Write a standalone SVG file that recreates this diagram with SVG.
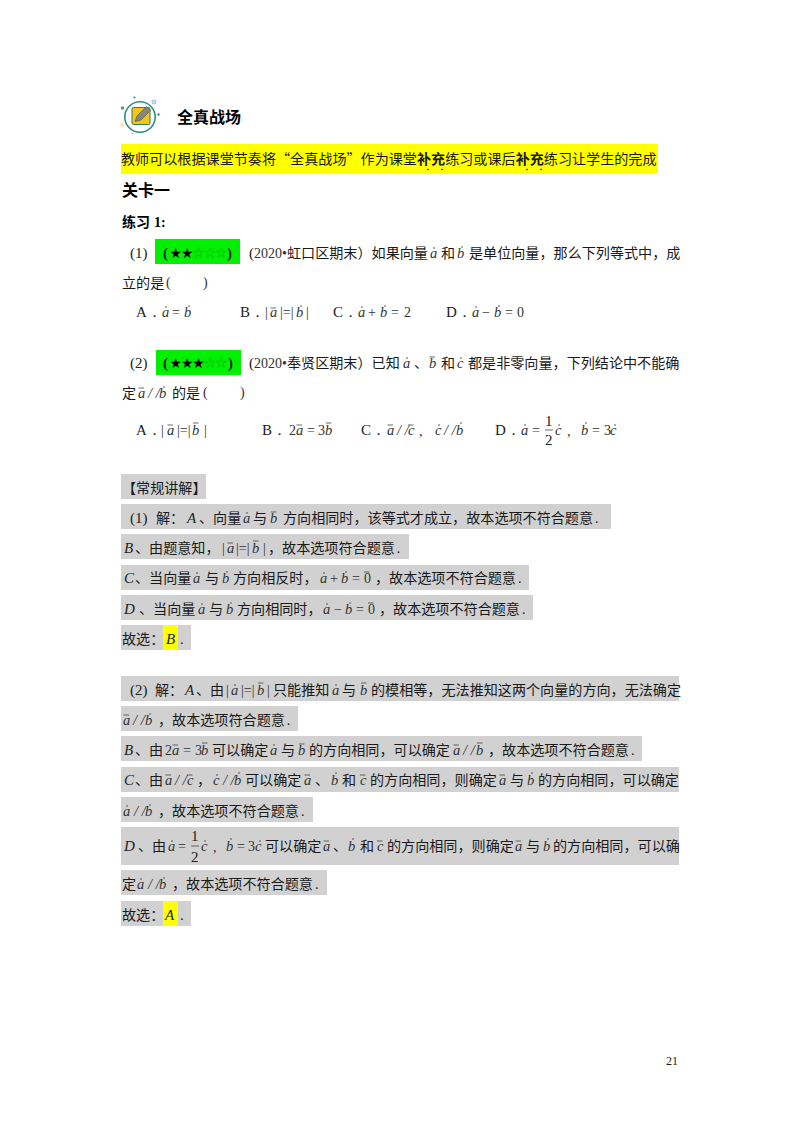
<svg xmlns="http://www.w3.org/2000/svg" width="800" height="1132" viewBox="0 0 800 1132">
<style>
text{font-family:"Liberation Serif","Noto Sans CJK SC",sans-serif;font-size:14.1px;fill:#1a1a1a;white-space:pre}
.h{font-family:"Liberation Sans","Noto Sans CJK SC",sans-serif;font-weight:700;fill:#000}
.c{font-family:"Noto Sans CJK SC",sans-serif;fill:#1a1a1a}
.m{font-family:"Liberation Serif",serif;font-style:italic;font-size:14.5px;fill:#333}
.u{font-size:15px;fill:#222}
.n{font-family:"Liberation Serif",serif;font-size:14px;fill:#333}
.f{font-family:"Liberation Serif",serif;font-size:15px;fill:#222}
.L{font-family:"Liberation Serif",serif;font-size:15px;fill:#222}
.s{font-family:"Noto Sans CJK SC",sans-serif;font-size:11.400px;fill:#000}
.o{fill:#0e9c22}
.p{font-family:"Liberation Serif",serif}
.g{fill:#d1d1d1}.y{fill:#ffff00}.gr{fill:#00f000}
.v{stroke:#444;stroke-width:.8;fill:none}
</style>
<defs>
<path id="b" class="v" d="M0 0h5.500"/>
<circle id="d" r=".8" fill="#444"/>
</defs>
<rect width="800" height="1132" fill="#fff"/>

<g id="icon">
<circle cx="140" cy="117" r="15.200" fill="#fff" stroke="#2a9080" stroke-width="1.600"/>
<rect x="132" y="107.500" width="18" height="17" rx="1.500" fill="#f3c814" stroke="#2f7d62" stroke-width="1"/>
<path d="M135 121.500l2-5.500 9.500-9.500 4 4-9.500 9.500z" fill="#85857a" stroke="#5a5a50" stroke-width=".7"/>
<circle cx="122.500" cy="108" r="1.800" fill="#7a8a85"/><circle cx="134.500" cy="97.500" r="1.100" fill="#2a9080"/>
<circle cx="154" cy="102" r="2" fill="#cfe4f5" stroke="#7aa8d8" stroke-width=".7"/><circle cx="158.500" cy="114.500" r="1.200" fill="#2a9080"/>
<circle cx="122" cy="125" r="1.800" fill="#fbeeb0" stroke="#f0dc80" stroke-width=".5"/><circle cx="132.500" cy="133.500" r=".8" fill="#8fbfc0"/>
</g>

<g id="heading">
<text class="h" x="177" y="123" style="font-size:16px">全真战场</text>
<rect class="y" x="121" y="144" width="537" height="30"/>
<text class="c" x="121" y="164">教师可以根据课堂节奏将“全真战场”作为课堂<tspan font-weight="700">补充</tspan>练习或课后<tspan font-weight="700">补充</tspan>练习让学生的完成</text>
<circle cx="428" cy="169.500" r=".8" fill="#000"/><circle cx="442" cy="169.500" r=".8" fill="#000"/><circle cx="527" cy="169.500" r=".8" fill="#000"/><circle cx="541" cy="169.500" r=".8" fill="#000"/>
<text class="h" x="122" y="196" style="font-size:16px">关卡一</text>
<text class="h" x="122" y="227" style="font-size:14px">练习 <tspan font-family="Liberation Serif">1:</tspan></text>
</g>

<g id="q1">
<rect class="gr" x="155" y="239" width="85" height="25"/>
<text class="L" x="130" y="258">(1)</text>
<text class="L" x="163" y="258" font-weight="700">(</text><text class="s" x="170" y="257">★★<tspan class="o">☆☆☆</tspan></text><text class="L" x="227" y="258" font-weight="700">)</text>
<text class="L" x="249" y="258">(</text><text class="n" x="254" y="258">2020•</text><text class="c" x="287" y="258">虹口区期末）如果向量</text>
<text class="m" x="430" y="258">a</text><use href="#d" x="434" y="248"/>
<text class="c" x="441" y="258">和</text>
<text class="m" x="457" y="258">b</text><use href="#d" x="462" y="247"/>
<text class="c" x="469" y="258">是单位向量，那么下列等式中，成</text>
<text class="c" x="122" y="288">立的是</text><text class="n" x="166" y="287">(</text><text class="n" x="203" y="287">)</text>
<text class="L" x="136" y="317">A．</text><text class="m" x="162" y="317">a</text><use href="#d" x="166" y="307"/><text class="n" x="172" y="317">=</text><text class="m" x="184" y="317">b</text><use href="#d" x="189" y="306"/>
<text class="L" x="240" y="317">B．</text><text class="n" x="265" y="317">|</text><text class="m" x="270" y="317">a</text><use href="#b" x="270.500" y="308"/><text class="n" x="280" y="317">|=|</text><text class="m" x="296" y="317">b</text><use href="#d" x="301" y="306"/><text class="n" x="306" y="317">|</text>
<text class="L" x="333" y="317">C．</text><text class="m" x="358" y="317">a</text><use href="#d" x="362" y="307"/><text class="n" x="368" y="317">+</text><text class="m" x="380" y="317">b</text><use href="#d" x="385" y="306"/><text class="n" x="391" y="317">=</text><text class="n" x="404" y="317">2</text>
<text class="L" x="446" y="317">D．</text><text class="m" x="472" y="317">a</text><use href="#d" x="476" y="307"/><text class="n" x="482" y="317">−</text><text class="m" x="494" y="317">b</text><use href="#d" x="499" y="306"/><text class="n" x="505" y="317">=</text><text class="n" x="517" y="317">0</text>
</g>

<g id="q2">
<rect class="gr" x="156" y="350" width="85" height="25"/>
<text class="L" x="130" y="368">(2)</text>
<text class="L" x="163" y="368" font-weight="700">(</text><text class="s" x="170" y="367">★★★<tspan class="o">☆☆</tspan></text><text class="L" x="228" y="368" font-weight="700">)</text>
<text class="L" x="249" y="368">(</text><text class="n" x="254" y="368">2020•</text><text class="c" x="287" y="368">奉贤区期末）已知</text>
<text class="m" x="403" y="368">a</text><use href="#d" x="407" y="358"/>
<text class="c" x="414" y="368">、</text>
<text class="m" x="429" y="368">b</text><use href="#b" x="429.500" y="357"/>
<text class="c" x="441" y="368">和</text>
<text class="m" x="457" y="368">c</text><use href="#d" x="461" y="358"/>
<text class="c" x="468" y="368">都是非零向量，下列结论中不能确</text>
<text class="c" x="122" y="398">定</text><text class="m" x="138" y="398">a</text><use href="#b" x="138.500" y="388"/><text class="m" x="148" y="398">/ /</text><text class="m" x="159" y="398">b</text><use href="#d" x="164" y="387"/>
<text class="c" x="172" y="398">的是</text><text class="n" x="203" y="397">(</text><text class="n" x="240" y="397">)</text>
<text class="L" x="136" y="435">A．</text><text class="n" x="161" y="435">|</text><text class="m" x="167" y="435">a</text><use href="#b" x="167.500" y="425"/><text class="n" x="177" y="435">|=|</text><text class="m" x="192" y="435">b</text><use href="#b" x="193" y="423"/><text class="n" x="204" y="435">|</text>
<text class="L" x="262" y="435">B．</text><text class="n" x="289" y="435">2</text><text class="m" x="296" y="435">a</text><use href="#b" x="296.500" y="425"/><text class="n" x="307" y="435">=</text><text class="n" x="318" y="435">3</text><text class="m" x="325" y="435">b</text><use href="#b" x="326" y="423"/>
<text class="L" x="361" y="435">C．</text><text class="m" x="387" y="435">a</text><use href="#b" x="387.500" y="425"/><text class="m" x="397" y="435">/ /</text><text class="m" x="408" y="435">c</text><use href="#b" x="408" y="425"/><text class="n" x="419" y="436">,</text>
<text class="m" x="435" y="435">c</text><use href="#d" x="439" y="425"/><text class="m" x="444" y="435">/ /</text><text class="m" x="456" y="435">b</text><use href="#d" x="461" y="423"/>
<text class="L" x="495" y="435">D．</text><text class="m" x="521" y="435">a</text><use href="#d" x="525" y="425"/><text class="n" x="532" y="435">=</text>
<text class="f" x="545" y="426">1</text><path class="v" d="M545 430h8"/><text class="f" x="545" y="445">2</text>
<text class="m" x="555" y="435">c</text><use href="#d" x="559" y="425"/><text class="n" x="567" y="436">,</text>
<text class="m" x="581" y="435">b</text><use href="#d" x="586" y="423"/><text class="n" x="592" y="435">=</text><text class="n" x="604" y="435">3</text><text class="m" x="610" y="435">c</text><use href="#d" x="615" y="425"/>
</g>

<g id="solution1">
<rect class="g" x="121" y="474" width="85" height="25"/>
<rect class="g" x="121" y="504" width="490" height="25"/>
<rect class="g" x="121" y="534" width="288" height="25"/>
<rect class="g" x="121" y="565" width="408" height="25"/>
<rect class="g" x="121" y="595" width="412" height="25"/>
<rect class="g" x="121" y="625" width="70" height="25"/>
<rect class="y" x="163" y="625" width="15" height="25"/>
<text class="c" x="122" y="493">【常规讲解】</text>
<text class="L" x="130" y="523">(1)</text><text class="c" x="156" y="523">解：</text><text class="m u" x="187" y="523">A</text><text class="c" x="199" y="523">、向量</text>
<text class="m" x="243" y="523">a</text><use href="#d" x="247" y="513"/><text class="c" x="253" y="523">与</text><text class="m" x="270" y="523">b</text><use href="#b" x="271" y="512"/>
<text class="c" x="283" y="523">方向相同时，该等式才成立，故本选项不符合题意<tspan dx="2" class="p">.</tspan></text>
<text class="m u" x="124" y="553">B</text><text class="c" x="135" y="553">、由题意知，</text><text class="n" x="222" y="553">|</text><text class="m" x="227" y="553">a</text><use href="#b" x="227.500" y="543"/><text class="n" x="236" y="553">|=|</text><text class="m" x="252" y="553">b</text><use href="#b" x="253" y="541"/><text class="n" x="263" y="553">|</text><text class="c" x="268" y="553">，故本选项符合题意<tspan dx="2" class="p">.</tspan></text>
<text class="m u" x="124" y="583">C</text><text class="c" x="135" y="583">、当向量</text><text class="m" x="193" y="583">a</text><use href="#d" x="197" y="573"/><text class="c" x="205" y="583">与</text><text class="m" x="222" y="583">b</text><use href="#d" x="227" y="572"/><text class="c" x="233" y="583">方向相反时，</text>
<text class="m" x="320" y="583">a</text><use href="#d" x="324" y="573"/><text class="n" x="330" y="583">+</text><text class="m" x="341" y="583">b</text><use href="#d" x="346" y="572"/><text class="n" x="352" y="583">=</text><text class="n" x="364" y="583">0</text><use href="#b" x="364" y="572"/><text class="c" x="375" y="583">，故本选项不符合题意<tspan dx="2" class="p">.</tspan></text>
<text class="m u" x="124" y="614">D</text><text class="c" x="139" y="614">、当向量</text><text class="m" x="198" y="614">a</text><use href="#d" x="202" y="604"/><text class="c" x="209" y="614">与</text><text class="m" x="226" y="614">b</text><use href="#d" x="231" y="603"/><text class="c" x="237" y="614">方向相同时，</text>
<text class="m" x="323" y="614">a</text><use href="#d" x="327" y="604"/><text class="n" x="334" y="614">−</text><text class="m" x="345" y="614">b</text><use href="#d" x="350" y="603"/><text class="n" x="356" y="614">=</text><text class="n" x="368" y="614">0</text><use href="#b" x="368" y="603"/><text class="c" x="379" y="614">，故本选项不符合题意<tspan dx="2" class="p">.</tspan></text>
<text class="c" x="122" y="644">故选：</text><text class="m u" x="166" y="644">B</text><text class="L" x="180" y="644">.</text>
</g>

<g id="solution2">
<rect class="g" x="121" y="676" width="558" height="25"/>
<rect class="g" x="121" y="706" width="177" height="25"/>
<rect class="g" x="121" y="736" width="521" height="25"/>
<rect class="g" x="121" y="767" width="558" height="25"/>
<rect class="g" x="121" y="797" width="192" height="25"/>
<rect class="g" x="121" y="827" width="558" height="38"/>
<rect class="g" x="121" y="870" width="206" height="25"/>
<rect class="g" x="121" y="901" width="70" height="25"/>
<rect class="y" x="163" y="901" width="15" height="25"/>

<text class="L" x="130" y="695">(2)</text><text class="c" x="155" y="695">解：</text><text class="m u" x="185" y="695">A</text><text class="c" x="196" y="695">、由</text><text class="n" x="226" y="695">|</text><text class="m" x="231" y="695">a</text><use href="#d" x="235" y="685"/><text class="n" x="241" y="695">|=|</text><text class="m" x="257" y="695">b</text><use href="#b" x="258" y="683"/><text class="n" x="267" y="695">|</text><text class="c" x="273" y="695">只能推知</text><text class="m" x="332" y="695">a</text><use href="#d" x="336" y="685"/><text class="c" x="342" y="695">与</text><text class="m" x="360" y="695">b</text><use href="#b" x="361" y="683"/><text class="c" x="371" y="695">的模相等，无法推知这两个向量的方向，无法确定</text>
<text class="m" x="123" y="725">a</text><use href="#b" x="123.500" y="715"/><text class="m" x="133" y="725">/ /</text><text class="m" x="145" y="725">b</text><use href="#d" x="150" y="714"/><text class="c" x="158" y="725">，故本选项符合题意<tspan dx="2" class="p">.</tspan></text>
<text class="m u" x="124" y="755">B</text><text class="c" x="135" y="755">、由</text><text class="n" x="165" y="755">2</text><text class="m" x="172" y="755">a</text><use href="#b" x="172.500" y="745"/><text class="n" x="183" y="755">=</text><text class="n" x="195" y="755">3</text><text class="m" x="201" y="755">b</text><use href="#b" x="202" y="743"/><text class="c" x="212" y="755">可以确定</text><text class="m" x="270" y="755">a</text><use href="#d" x="274" y="745"/><text class="c" x="281" y="755">与</text><text class="m" x="298" y="755">b</text><use href="#b" x="299" y="744"/><text class="c" x="309" y="755">的方向相同，可以确定</text><text class="m" x="453" y="755">a</text><use href="#b" x="453.500" y="745"/><text class="m" x="463" y="755">/ /</text><text class="m" x="476" y="755">b</text><use href="#b" x="477" y="743"/><text class="c" x="488" y="755">，故本选项不符合题意<tspan dx="2" class="p">.</tspan></text>
<text class="m u" x="124" y="785">C</text><text class="c" x="135" y="785">、由</text><text class="m" x="165" y="785">a</text><use href="#b" x="165.500" y="775"/><text class="m" x="175" y="785">/ /</text><text class="m" x="187" y="785">c</text><use href="#b" x="187" y="775"/><text class="c" x="197" y="785">，</text><text class="m" x="213" y="785">c</text><use href="#d" x="217" y="775"/><text class="m" x="223" y="785">/ /</text><text class="m" x="234" y="785">b</text><use href="#d" x="239" y="773"/><text class="c" x="245" y="785">可以确定</text><text class="m" x="304" y="785">a</text><use href="#b" x="304.500" y="775"/><text class="c" x="315" y="785">、</text><text class="m" x="331" y="785">b</text><use href="#d" x="336" y="773"/><text class="c" x="342" y="785">和</text><text class="m" x="360" y="785">c</text><use href="#b" x="360" y="775"/><text class="c" x="370" y="785">的方向相同，则确定</text><text class="m" x="499" y="785">a</text><use href="#b" x="499.500" y="775"/><text class="c" x="510" y="785">与</text><text class="m" x="527" y="785">b</text><use href="#d" x="532" y="773"/><text class="c" x="538" y="785">的方向相同，可以确定</text>
<text class="m" x="123" y="816">a</text><use href="#d" x="127" y="806"/><text class="m" x="134" y="816">/ /</text><text class="m" x="145" y="816">b</text><use href="#d" x="150" y="805"/><text class="c" x="158" y="816">，故本选项不符合题意<tspan dx="2" class="p">.</tspan></text>
<text class="m u" x="124" y="851">D</text><text class="c" x="138" y="851">、由</text><text class="m" x="168" y="851">a</text><use href="#d" x="172" y="841"/><text class="n" x="178" y="851">=</text><text class="f" x="191" y="841">1</text><path class="v" d="M191 846h8"/><text class="f" x="191" y="862">2</text><text class="m" x="201" y="851">c</text><use href="#d" x="205" y="841"/><text class="n" x="213" y="852">,</text><text class="m" x="226" y="851">b</text><use href="#d" x="231" y="839"/><text class="n" x="237" y="851">=</text><text class="n" x="248" y="851">3</text><text class="m" x="255" y="851">c</text><use href="#d" x="260" y="841"/><text class="c" x="265" y="851">可以确定</text><text class="m" x="323" y="851">a</text><use href="#b" x="323.500" y="841"/><text class="c" x="333" y="851">、</text><text class="m" x="348" y="851">b</text><use href="#d" x="353" y="839"/><text class="c" x="360" y="851">和</text><text class="m" x="377" y="851">c</text><use href="#b" x="377" y="841"/><text class="c" x="387" y="851">的方向相同，则确定</text><text class="m" x="515" y="851">a</text><use href="#b" x="515.500" y="841"/><text class="c" x="526" y="851">与</text><text class="m" x="543" y="851">b</text><use href="#d" x="548" y="839"/><text class="c" x="553" y="851">的方向相同，可以确</text>
<text class="c" x="122" y="889">定</text><text class="m" x="137" y="889">a</text><use href="#d" x="141" y="879"/><text class="m" x="148" y="889">/ /</text><text class="m" x="159" y="889">b</text><use href="#d" x="164" y="878"/><text class="c" x="172" y="889">，故本选项不符合题意<tspan dx="2" class="p">.</tspan></text>
<text class="c" x="122" y="920">故选：</text><text class="m u" x="165" y="920">A</text><text class="L" x="180" y="920">.</text>
</g>

<text id="page" x="666" y="1065" style="font-size:12px">21</text>
</svg>
